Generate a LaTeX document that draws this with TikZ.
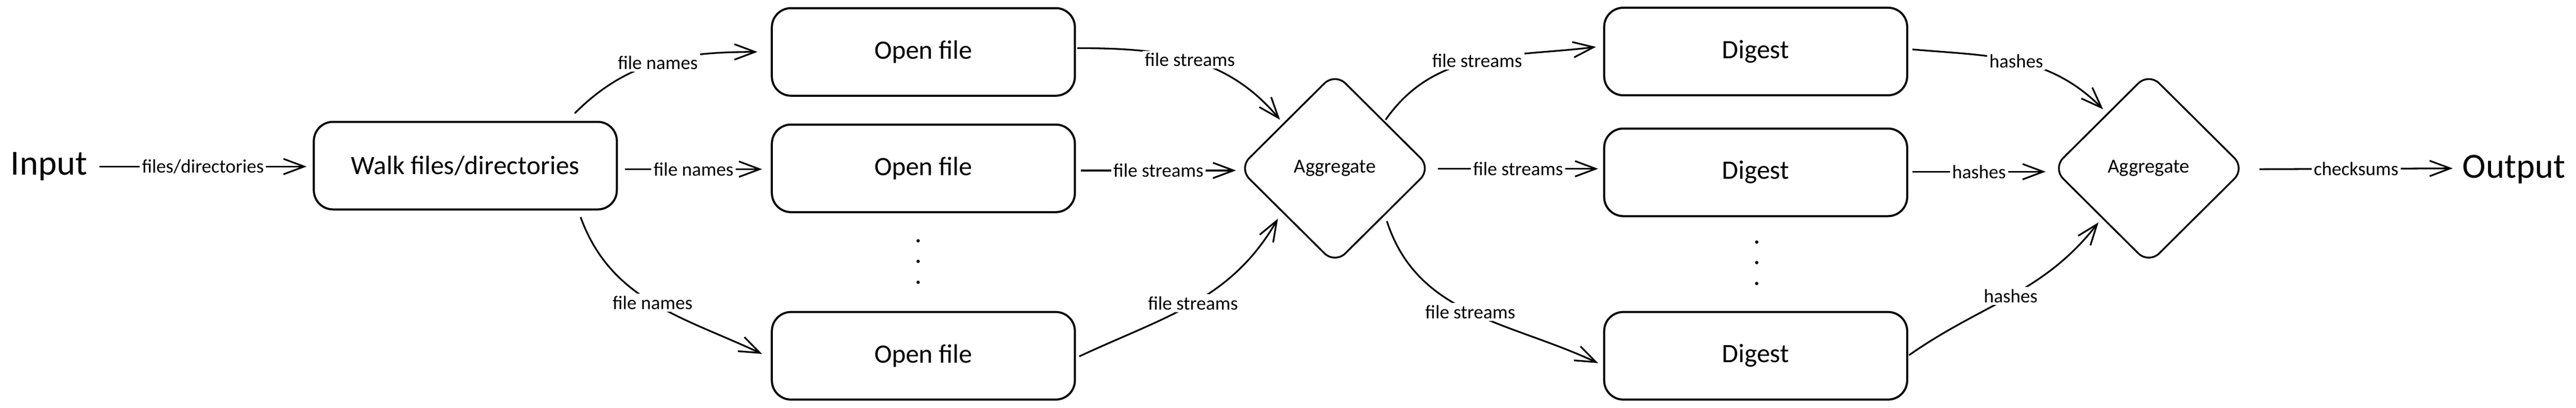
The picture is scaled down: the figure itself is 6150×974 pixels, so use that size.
\documentclass[tikz,border=0pt]{standalone}
\usepackage{fontspec}
\setmainfont{Carlito}
\usetikzlibrary{arrows.meta,shapes.geometric,calc}
\begin{document}
\begin{tikzpicture}[x=0.01cm,y=0.01cm,
  box/.style={draw, line width=1.4pt, rounded corners=13pt, minimum width=7.23cm, minimum height=2.09cm, inner sep=0pt, font=\fontsize{18}{22}\selectfont},
  agg/.style={diamond, draw, line width=1.2pt, rounded corners=10pt, minimum width=4.6cm, minimum height=4.57cm, inner sep=0pt, aspect=1, font=\fontsize{13.5}{16}\selectfont},
  arr/.style={line width=1.15pt, -{Straight Barb[length=14pt,width=10.5pt]}},
  lbl/.style={fill=white, inner sep=1.5pt, font=\fontsize{13}{15}\selectfont},
  term/.style={font=\fontsize{24}{28}\selectfont, inner sep=0pt},
  dot/.style={circle, fill, inner sep=0pt, minimum size=0.08cm}]
\useasboundingbox (0,0) rectangle (6150,974);

\node[term, anchor=base] (input) at (117,556) {Input};
\node[term, anchor=base] (output) at (6002,549) {Output};
\node[box] (walk) at (1111,578.5) {Walk files/directories};
\node[box] (o1) at (2204.5,850) {Open file};
\node[box] (o2) at (2204.5,572) {Open file};
\node[box] (o3) at (2204.5,124.5) {Open file};
\node[agg] (a1) at (3187,572) {Aggregate};
\node[box] (d1) at (4191.5,851) {Digest};
\node[box] (d2) at (4191.5,562.5) {Digest};
\node[box] (d3) at (4191.5,124.5) {Digest};
\node[agg] (a2) at (5130,572) {Aggregate};

\node[dot] (p1) at (2192,399) {};
\node[dot] (p2) at (2192,350) {};
\node[dot] (p3) at (2192,300) {};
\node[dot] (q1) at (4194,396) {};
\node[dot] (q2) at (4194,347) {};
\node[dot] (q3) at (4194,297) {};

\draw[arr] ([shift={(28,0)}]input.east) -- ([shift={(-15,0)}]walk.west |- input.east) node[lbl, midway] {files/directories};

\draw[arr] ([shift={(-103,18)}]walk.north east) to[out=45,in=180] node[lbl] {file names} ([shift={(-32,0)}]o1.west);
\draw[arr] ([shift={(17,-8.5)}]walk.east) -- ([shift={(-21,-2)}]o2.west) node[lbl, midway] {file names};
\draw[arr] ([shift={(-89,-16)}]walk.south east) to[out=-70,in=155] node[lbl] {file names} ([shift={(-21,4.5)}]o3.west);

\draw[arr] ([shift={(3,9)}]o1.east) to[out=0,in=130] node[lbl] {file streams} ([shift={(-131,116)}]a1.center);
\draw[arr] ([shift={(12,-5)}]o2.east) -- ([shift={(-4,-5)}]a1.west) node[lbl, midway] {file streams};
\draw[arr] ([shift={(8,-1.5)}]o3.east) to[out=25,in=240] node[lbl] {file streams} ([shift={(-136,-120)}]a1.center);

\draw[arr] ([shift={(121,116)}]a1.center) to[out=55,in=187] node[lbl] {file streams} ([shift={(-17,11)}]d1.west);
\draw[arr] ([shift={(14,-1)}]a1.east) -- ([shift={(-12,8.5)}]d2.west) node[lbl, midway] {file streams};
\draw[arr] ([shift={(124,-126)}]a1.center) to[out=-72,in=155] node[lbl] {file streams} ([shift={(-12,-17.5)}]d3.west);

\draw[arr] ([shift={(10,5)}]d1.east) to[out=-5,in=135] node[lbl] {hashes} ([shift={(-109,141)}]a2.center);
\draw[arr] ([shift={(10,1.5)}]d2.east) -- ([shift={(-14,-8)}]a2.west) node[lbl, midway] {hashes};
\draw[arr] ([shift={(2,1.5)}]d3.east) to[out=35,in=232] node[lbl] {hashes} ([shift={(-120,-129)}]a2.center);

\draw[arr] ([shift={(32,-2)}]a2.east) -- ([shift={(-23,0)}]output.west |- a2.east) node[lbl, midway] {checksums};
\end{tikzpicture}
\end{document}
